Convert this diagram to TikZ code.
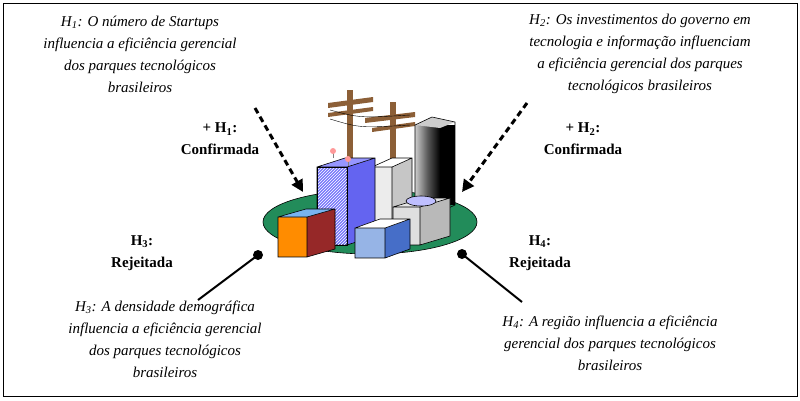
\documentclass[tikz,border=0pt]{standalone}
\usepackage{fontspec}
\setmainfont{Liberation Serif}
\usetikzlibrary{patterns,arrows.meta}
\definecolor{grnd}{RGB}{34,140,90}
\definecolor{hb1}{RGB}{120,120,250}
\definecolor{hb2}{RGB}{100,100,240}
\definecolor{hb3}{RGB}{150,150,255}
\definecolor{lb1}{RGB}{150,180,230}
\definecolor{lb2}{RGB}{70,110,200}
\definecolor{redf}{RGB}{150,40,40}
\definecolor{skyt}{RGB}{120,180,240}
\definecolor{pole}{RGB}{140,95,55}
\begin{document}
\begin{tikzpicture}[x=1pt,y=-1pt,
  it/.style={align=center,font=\fontsize{15}{22}\selectfont\itshape,inner sep=0},
  bd/.style={align=center,font=\fontsize{15}{22}\selectfont\bfseries,inner sep=0},
  dasharr/.style={line width=3pt,dash pattern=on 6pt off 4pt,-{Triangle[length=12pt,width=12pt]}},
  edge/.style={draw=black,line width=0.6pt}]
\useasboundingbox (0,0) rectangle (800,400);
\draw[line width=0.8pt] (3,3) rectangle (797,396);
% ground
\fill[grnd] (370,222) ellipse (107 and 32);
\draw[edge] (370,222) ellipse (107 and 32);
% poles
\fill[pole] (347,90) rectangle (353,167);
\fill[pole] (390,102) rectangle (396,160);
\fill[pole] (328,103) -- (373,97) -- (373,102) -- (328,108) -- cycle;
\fill[pole] (328,113) -- (373,107) -- (373,111) -- (328,117) -- cycle;
\fill[pole] (365,118) -- (415,112) -- (415,117) -- (365,123) -- cycle;
\fill[pole] (372,128) -- (415,122) -- (415,126) -- (372,132) -- cycle;
\draw[black,thin] (330,110) .. controls (360,118) .. (410,115);
\draw[black,thin] (330,119) .. controls (360,128) .. (410,125);
% black cylinder
\shade[left color=gray!40,right color=black,middle color=gray!70!black] (415,125) rectangle (440,212);
\fill[black] (440,125) rectangle (455,205);
\fill[gray!40] (415,125) -- (432,117) -- (455,122) -- (440,128) -- cycle;
\draw[edge] (415,125) -- (432,117) -- (455,122) -- (455,205) -- (440,212) -- (415,212) -- cycle;
\newcommand\bx[9]{%
  \fill[#7] (#1,#4) rectangle (#2,#5);
  \fill[#8] (#2,#4) -- (#3,#4-#6) -- (#3,#5-#6) -- (#2,#5) -- cycle;
  \fill[#9] (#1,#4) -- (#2,#4) -- (#3,#4-#6) -- (#1+#3-#2,#4-#6) -- cycle;
  \draw[edge] (#1,#4) rectangle (#2,#5) (#2,#4) -- (#3,#4-#6) -- (#3,#5-#6) -- (#2,#5)
    (#1,#4) -- (#1+#3-#2,#4-#6) -- (#3,#4-#6);}
\bx{372}{392}{412}{167}{228}{9}{gray!15}{gray!45}{white}
\bx{317}{347}{375}{167}{245}{9}{hb1}{hb2}{hb3}
\fill[pattern=north east lines,pattern color=white] (317,167) rectangle (347,245);
\draw[edge] (317,167) rectangle (347,245);
\draw[gray] (333,158) -- (333,152); \fill[pink!80!red] (333,151) circle (3);
\draw[gray] (348,166) -- (348,160); \fill[pink!80!red] (348,159) circle (3);
\bx{393}{420}{450}{207}{245}{9}{gray!25}{gray!55}{gray!20}
\fill[blue!25] (421,201) ellipse (15 and 5); \draw[edge] (421,201) ellipse (15 and 5);
\bx{355}{385}{410}{228}{258}{9}{lb1}{lb2}{white}
\bx{278}{307}{335}{217}{257}{8}{orange!90!yellow}{redf}{skyt}
% texts
\node[it] (t1) at (140,54) {H\textsubscript{1}: O número de Startups\\influencia a eficiência gerencial\\dos parques tecnológicos\\brasileiros};
\node[it] (t2) at (640,54) {H\textsubscript{2}: Os investimentos do governo em\\tecnologia e informação influenciam\\a eficiência gerencial dos parques\\tecnológicos brasileiros};
\node[bd] (c1) at (220,139) {+ H\textsubscript{1}:\\Confirmada};
\node[bd] (c2) at (583,139) {+ H\textsubscript{2}:\\Confirmada};
\node[bd] (r3) at (142,253) {H\textsubscript{3}:\\Rejeitada};
\node[bd] (r4) at (540,253) {H\textsubscript{4}:\\Rejeitada};
\node[it] (t3) at (165,339) {H\textsubscript{3}: A densidade demográfica\\influencia a eficiência gerencial\\dos parques tecnológicos\\brasileiros};
\node[it] (t4) at (610,343) {H\textsubscript{4}: A região influencia a eficiência\\gerencial dos parques tecnológicos\\brasileiros};
% connectors
\coordinate (a1) at (255,108); \coordinate (b1) at (303,192);
\coordinate (a2) at (527,103); \coordinate (b2) at (462,192);
\draw[dasharr] (a1) -- (b1);
\draw[dasharr] (a2) -- (b2);
\coordinate (d3) at (258,255); \coordinate (e3) at (198,300);
\coordinate (d4) at (462,254); \coordinate (e4) at (522,302);
\fill (d3) circle (5); \draw[line width=2pt] (d3) -- (e3);
\fill (d4) circle (5); \draw[line width=2pt] (d4) -- (e4);
\end{tikzpicture}
\end{document}
